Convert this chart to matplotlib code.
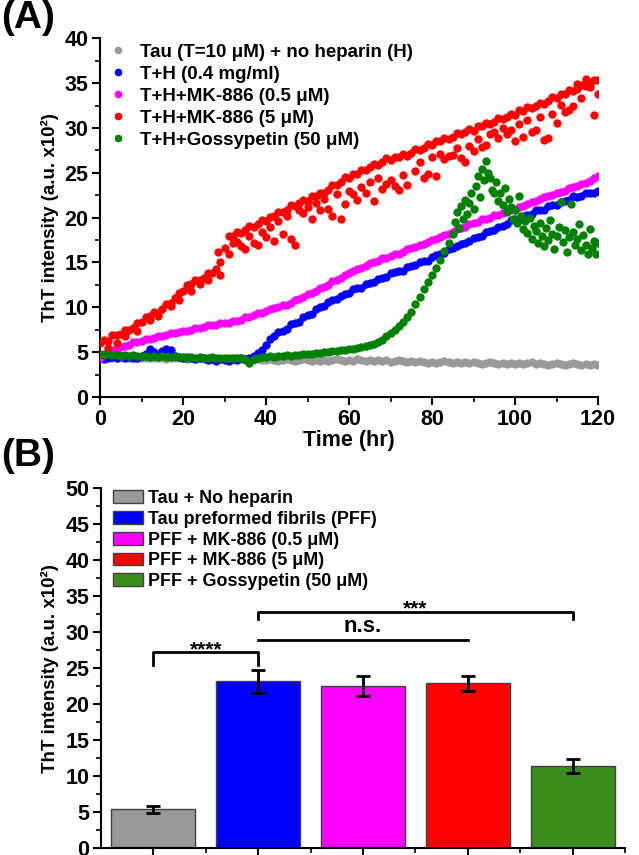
import numpy as np
import matplotlib
matplotlib.use('Agg')
import matplotlib.pyplot as plt
from matplotlib.patches import Patch
from matplotlib.lines import Line2D
from matplotlib.ticker import MultipleLocator

plt.rcParams['font.family'] = ['Liberation Sans', 'DejaVu Sans']
plt.rcParams['font.weight'] = 'bold'
plt.rcParams['axes.labelweight'] = 'bold'

# ---------------- Panel A data ----------------
time_hr = np.arange(0, 121)

gray_tau = [4.5,4.4,4.5,4.4,4.3,4.4,4.5,4.4,4.3,4.4,
            4.4,4.3,4.4,4.3,4.4,4.3,4.2,4.3,4.4,4.3,
            4.3,4.2,4.3,4.2,4.3,4.2,4.3,4.2,4.1,4.2,
            4.2,4.1,4.2,4.3,4.2,4.1,4.2,4.1,4.2,4.1,
            4.1,4.2,4.1,4.0,4.1,4.2,4.1,4.0,4.1,4.2,
            4.1,4.0,4.1,4.0,4.1,4.0,4.1,4.2,4.1,4.0,
            4.1,4.0,4.2,4.1,4.0,4.1,4.0,4.1,4.0,4.1,
            3.9,4.0,4.1,4.0,3.9,4.0,3.9,4.0,3.9,3.8,
            3.9,3.8,3.9,4.0,3.9,3.8,3.9,3.8,3.9,3.8,
            3.9,3.8,3.7,3.8,3.9,3.8,3.7,3.8,3.7,3.8,
            3.7,3.8,3.7,3.8,3.9,3.7,3.8,3.7,3.6,3.7,
            3.8,3.7,3.6,3.7,3.8,3.7,3.6,3.7,3.6,3.7,
            3.6]

blue_th = [4.6,4.2,4.4,4.5,4.3,4.6,4.4,4.5,4.3,4.4,
           4.6,4.8,5.3,5.0,4.7,5.1,5.4,5.2,4.6,4.5,
           4.4,4.5,4.3,4.2,4.4,4.3,4.1,4.2,4.0,4.2,
           4.1,4.0,4.2,4.1,4.3,4.2,4.4,4.6,4.9,5.2,
           5.8,6.5,6.8,7.2,7.4,7.6,8.1,8.2,8.4,8.9,
           9.1,9.3,9.8,10.0,10.2,10.6,10.8,10.9,11.3,11.5,
           11.6,12.0,12.1,12.2,12.6,12.7,12.8,13.2,13.3,13.4,
           13.8,13.9,14.0,14.1,14.5,14.6,14.7,15.1,15.2,15.2,
           15.6,15.8,15.9,16.1,16.5,16.6,16.8,17.1,17.2,17.4,
           17.7,17.8,18.0,18.4,18.5,18.6,19.0,19.1,19.3,19.7,
           19.8,19.9,20.2,20.3,20.4,20.8,20.8,20.9,21.3,21.4,
           21.4,21.8,21.9,22.0,22.4,22.3,22.4,22.8,22.7,22.8,
           23.0]

magenta_th_mk05 = [4.4,4.8,4.9,5.2,5.3,5.6,5.7,5.8,6.1,6.1,
                   6.3,6.5,6.5,6.6,6.8,6.8,6.9,7.1,7.1,7.2,
                   7.4,7.4,7.5,7.7,7.7,7.8,8.0,8.0,8.0,8.2,
                   8.2,8.3,8.5,8.5,8.6,8.9,8.9,9.1,9.4,9.4,
                   9.6,9.8,9.9,10.0,10.3,10.3,10.5,10.8,10.9,11.2,
                   11.5,11.6,11.8,12.2,12.3,12.5,12.9,13.0,13.3,13.6,
                   13.8,14.0,14.3,14.4,14.6,14.9,15.0,15.2,15.5,15.5,
                   15.7,16.0,16.0,16.2,16.5,16.6,16.7,17.0,17.1,17.3,
                   17.5,17.6,17.8,18.1,18.2,18.4,18.7,18.8,19.0,19.3,
                   19.4,19.5,19.8,19.8,20.0,20.3,20.3,20.5,20.7,20.8,
                   20.9,21.2,21.3,21.5,21.8,21.9,22.1,22.3,22.4,22.5,
                   22.8,22.9,23.0,23.3,23.4,23.5,23.8,23.9,24.1,24.4,
                   24.6]

red_th_mk5 = [6.0,6.4,6.3,6.9,6.9,7.0,7.5,7.5,7.7,8.3,
              8.4,8.9,9.0,9.5,9.4,9.8,10.4,10.5,11.0,11.6,
              11.8,12.5,12.6,13.1,13.0,13.3,13.8,13.8,14.3,15.0,
              16.6,18.0,18.0,18.4,18.3,18.6,19.1,19.0,19.3,19.7,
              19.6,20.1,20.2,20.6,20.6,20.9,21.4,21.3,21.6,22.0,
              21.9,22.4,22.4,22.8,22.8,23.1,23.6,23.6,24.0,24.5,
              24.4,24.9,24.9,25.3,25.3,25.6,26.0,25.9,26.2,26.6,
              26.4,26.8,26.8,27.1,26.9,27.2,27.6,27.5,27.8,28.2,
              28.1,28.6,28.6,28.9,28.8,29.0,29.4,29.3,29.5,29.9,
              29.7,30.2,30.2,30.6,30.4,30.7,31.1,31.0,31.2,31.6,
              31.5,32.0,31.9,32.3,32.2,32.5,32.8,32.7,33.0,33.4,
              33.3,33.8,33.8,34.2,34.1,34.4,34.8,34.7,35.0,35.4,
              35.3]

red_extra_t = [28.5,33,34,35,37,38,40,42,44,46,47,49,51,53,55,56,58,59,61,62,
               64,66,68,69,71,72,74,78,79,81,83,85,87,88,90,93,96,98,100,102,
               105,107,108,110,112,113,114,115,116,117,118,119,120,
               60,63,65,67,70,73,76,77,80,82,84,86,89,91,92,94,95,97,99,101,
               103,104,106,109,111,
               2,4,6,9,12,14,17,19,22,24,26,29,31,32,36,39,41,43,45,48,
               50,52,54,57]
red_extra_v = [16.2,17.3,16.8,16.5,17.2,16.9,17.8,17.4,18.2,17.6,16.9,20.5,19.8,20.9,21.0,20.2,19.9,21.5,22.6,22.0,
               22.8,21.9,23.2,23.8,23.5,23.1,23.6,24.4,24.9,24.6,26.5,27.0,26.6,26.2,27.4,28.1,28.9,29.3,28.6,29.0,
               29.8,28.7,28.9,30.5,31.8,32.0,32.5,34.9,33.3,35.5,34.6,31.5,33.8,
               23.0,23.4,24.0,24.4,24.2,24.8,25.2,26.2,26.8,27.1,26.9,27.8,28.0,28.8,27.9,29.3,29.6,30.0,29.8,30.4,
               30.9,29.6,31.2,31.6,32.6,
               5.5,6.0,6.8,7.4,8.6,9.0,10.1,10.8,11.8,12.6,13.0,13.6,16.0,17.2,18.0,18.4,19.0,19.6,20.2,20.8,
               21.2,21.6,22.1,22.6]

green_t_early = np.arange(0, 85)
green_th_goss_early = [4.8,4.7,4.8,4.7,4.7,4.6,4.7,4.6,4.7,4.6,
                       4.6,4.6,4.5,4.6,4.5,4.6,4.5,4.5,4.6,4.5,
                       4.5,4.4,4.5,4.4,4.5,4.4,4.4,4.5,4.4,4.3,
                       4.4,4.3,4.3,4.4,4.3,4.2,3.8,4.2,4.4,4.5,
                       4.5,4.6,4.5,4.6,4.6,4.7,4.6,4.7,4.7,4.8,
                       4.8,4.8,4.9,4.9,5.0,5.0,5.1,5.1,5.2,5.2,
                       5.3,5.4,5.5,5.6,5.7,5.8,5.9,6.1,6.4,6.8,
                       7.1,7.5,7.9,8.4,8.9,9.5,10.4,11.2,12.0,12.8,
                       13.6,14.4,15.3,16.3,17.2]
green_t_late = np.arange(85, 120.5, 0.5)
green_th_goss_late = [18.2,19.5,20.6,18.9,21.3,19.8,22.0,20.4,21.6,22.8,
                      21.0,23.5,24.6,22.3,25.4,24.2,26.3,25.0,24.4,23.1,
                      22.7,24.0,21.9,22.8,21.4,23.3,20.6,22.1,21.2,19.8,
                      20.9,19.4,22.4,20.2,18.7,19.6,18.3,20.0,17.6,19.1,
                      18.5,17.2,19.4,18.0,16.8,18.9,17.5,19.7,18.2,16.5,
                      17.9,19.0,21.7,17.3,18.6,16.2,17.8,21.5,18.4,16.9,
                      17.6,19.3,16.4,18.1,17.0,15.9,18.7,16.6,17.4,16.0,
                      17.2]

labels_A = ['Tau (T=10 \u03bcM) + no heparin (H)', 'T+H (0.4 mg/ml)',
            'T+H+MK-886 (0.5 \u03bcM)', 'T+H+MK-886 (5 \u03bcM)',
            'T+H+Gossypetin (50 \u03bcM)']
colors_A = ['#999999', '#0000ff', '#ff00ff', '#ff0000', '#008000']

# ---------------- Panel B data ----------------
labels_B = ['Tau + No heparin', 'Tau preformed fibrils (PFF)',
            'PFF + MK-886 (0.5 \u03bcM)', 'PFF + MK-886 (5 \u03bcM)',
            'PFF + Gossypetin (50 \u03bcM)']
bar_means = [5.4, 23.2, 22.5, 22.9, 11.4]
bar_errs = [0.5, 1.6, 1.4, 1.0, 1.0]
colors_B = ['#999999', '#0000ff', '#ff00ff', '#ff0000', '#3a8e1e']
sig_pairs = [(1, 2), (2, 4), (2, 5)]
sig_levels = [27.2, 29.0, 32.8]
sig_legs = [1.7, 0.0, 1.0]
sig_texts = ['****', 'n.s.', '***']

# ---------------- Figure ----------------
W, H = 639, 855
fig = plt.figure(figsize=(W / 100, H / 100), dpi=100)


def rect(l, t, r, b):
    return [l / W, 1 - b / H, (r - l) / W, (b - t) / H]


def style(ax):
    for s in ['top', 'right']:
        ax.spines[s].set_visible(False)
    for s in ['left', 'bottom']:
        ax.spines[s].set_linewidth(1.5)
    ax.tick_params(which='major', direction='out', length=6, width=1.5, labelsize=15.5, pad=2.5)
    ax.tick_params(which='minor', direction='out', length=3.5, width=1.2)


# Panel A
axA = fig.add_axes(rect(100, 38.3, 598, 397))
ms = 36
axA.scatter(time_hr, gray_tau, s=ms, color=colors_A[0], lw=0, zorder=2)
axA.scatter(time_hr, blue_th, s=ms, color=colors_A[1], lw=0, zorder=3)
axA.scatter(time_hr, magenta_th_mk05, s=ms, color=colors_A[2], lw=0, zorder=3)
axA.scatter(time_hr, red_th_mk5, s=ms, color=colors_A[3], lw=0, zorder=3)
axA.scatter(red_extra_t, red_extra_v, s=ms, color=colors_A[3], lw=0, zorder=3)
axA.scatter(green_t_early, green_th_goss_early, s=ms, color=colors_A[4], lw=0, zorder=4)
axA.scatter(green_t_late, green_th_goss_late, s=ms, color=colors_A[4], lw=0, zorder=4)
axA.set_xlim(0, 120)
axA.set_ylim(0, 40)
axA.xaxis.set_major_locator(MultipleLocator(20))
axA.xaxis.set_minor_locator(MultipleLocator(10))
axA.yaxis.set_major_locator(MultipleLocator(5))
axA.yaxis.set_minor_locator(MultipleLocator(2.5))
style(axA)
axA.set_xlabel('Time (hr)', fontsize=15.5, fontweight='bold')
axA.xaxis.set_label_coords(0.5, -0.092)
axA.set_ylabel('ThT intensity (a.u. x10\u00b2)', fontsize=13.5, fontweight='bold')
axA.yaxis.set_label_coords(-0.082, 0.5)
handlesA = [Line2D([], [], ls='none', marker='o', ms=5.5, mfc=c, mec='none') for c in colors_A]
axA.legend(handlesA, labels_A, loc='upper left', bbox_to_anchor=(110.5 / W, 1 - 43.5 / H),
           bbox_transform=fig.transFigure, frameon=False, fontsize=13.5,
           handlelength=0.8, handletextpad=0.77, labelspacing=0.26, borderpad=0,
           borderaxespad=0)

# Panel B
axB = fig.add_axes(rect(101, 488.3, 625, 848.3))
pos = np.arange(1, 6)
axB.bar(pos, bar_means, width=0.8, color=colors_B, edgecolor='#404040', linewidth=1.0, zorder=2)
axB.errorbar(pos, bar_means, yerr=bar_errs, fmt='none', ecolor='black', elinewidth=2,
             capsize=5, capthick=2, zorder=3)
axB.set_xlim(0.5, 5.5)
axB.set_ylim(0, 50)
axB.set_xticks(pos)
axB.set_xticklabels([])
axB.set_xticks(pos + 0.5, minor=True)
axB.yaxis.set_major_locator(MultipleLocator(5))
axB.yaxis.set_minor_locator(MultipleLocator(2.5))
style(axB)
axB.tick_params(axis='x', which='major', length=7)
axB.set_ylabel('ThT intensity (a.u. x10\u00b2)', fontsize=13.5, fontweight='bold')
axB.yaxis.set_label_coords(-0.08, 0.5)
handlesB = [Patch(facecolor=c, edgecolor='#404040', linewidth=1.0) for c in colors_B]
axB.legend(handlesB, labels_B, loc='upper left', bbox_to_anchor=(113 / W, 1 - 490 / H),
           bbox_transform=fig.transFigure, frameon=False, fontsize=12.9,
           handlelength=1.68, handleheight=0.71, handletextpad=0.3, labelspacing=0.21,
           borderpad=0, borderaxespad=0)

# significance markers
for (a, b), yv, leg, txt in zip(sig_pairs, sig_levels, sig_legs, sig_texts):
    axB.plot([a, a, b, b], [yv - leg, yv, yv, yv - leg], color='black', lw=2, zorder=4)
    if txt == 'n.s.':
        axB.text((a + b) / 2, yv + 0.3, txt, ha='center', va='bottom', fontsize=16,
                 fontweight='bold')
    else:
        axB.text((a + b) / 2, yv - 0.35, txt, ha='center', va='baseline', fontsize=15,
                 fontweight='bold')

fig.text(1 / W, 1 - 0 / H, '(A)', fontsize=28, fontweight='bold', ha='left', va='top')
fig.text(1 / W, 1 - 438 / H, '(B)', fontsize=28, fontweight='bold', ha='left', va='top')

fig.savefig('out.png', dpi=100)
